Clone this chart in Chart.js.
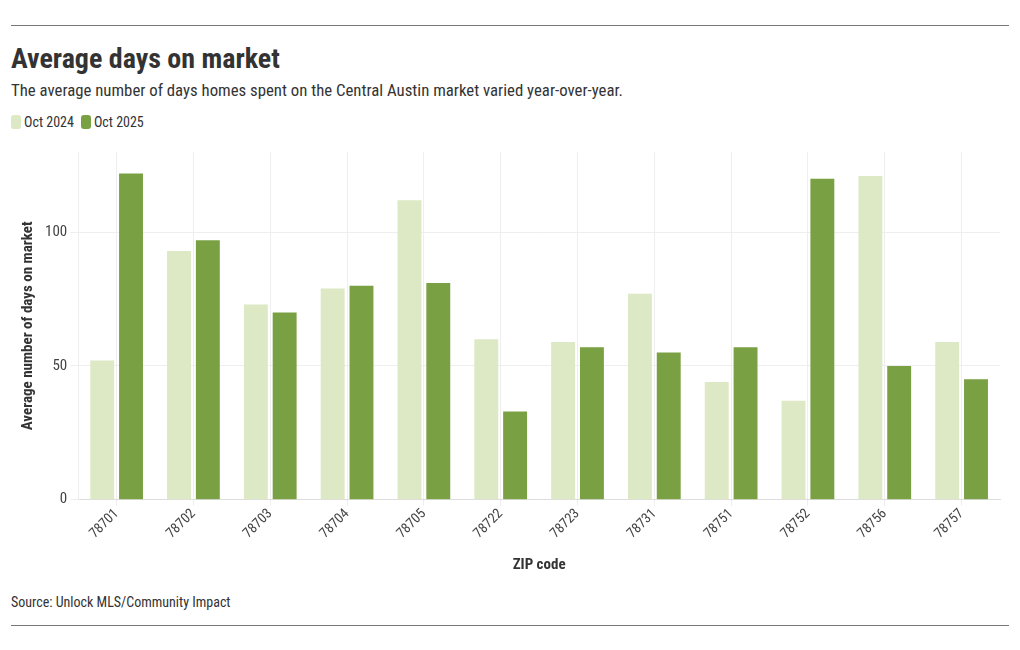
<!DOCTYPE html>
<html lang="en">
<head>
    <meta charset="UTF-8">
    <title>Average days on market</title>
    <script src="https://cdn.jsdelivr.net/npm/chart.js"></script>
    <style>
        body {
            margin: 0;
            background: white;
            font-family: "Roboto Condensed", "Liberation Sans Narrow", Roboto, sans-serif;
            color: #333;
        }
        .wrap {
            position: relative;
            width: 1020px;
            height: 650px;
        }
        .rule {
            position: absolute;
            left: 11px;
            width: 998px;
            border-top: 1px solid #777;
        }
        h1 {
            position: absolute;
            left: 11px;
            top: 42px;
            margin: 0;
            font-size: 28px;
            font-weight: bold;
            color: #333;
        }
        .sub {
            position: absolute;
            left: 11px;
            top: 80px;
            font-size: 16.8px;
            color: #333;
        }
        .legend {
            position: absolute;
            left: 11px;
            top: 114px;
            font-size: 14px;
            display: flex;
            align-items: center;
        }
        .sw {
            display: inline-block;
            width: 10px;
            height: 14px;
            border-radius: 3px;
            margin-right: 3px;
        }
        .item { display: flex; align-items: center; margin-right: 7px; }
        .chart-box {
            position: absolute;
            left: 11px;
            top: 140px;
            width: 998px;
            height: 436px;
        }
        .source {
            position: absolute;
            left: 11px;
            top: 594px;
            font-size: 14px;
            color: #333;
        }
    </style>
</head>
<body>
<div class="wrap">
    <div class="rule" style="top:25px"></div>
    <h1>Average days on market</h1>
    <div class="sub">The average number of days homes spent on the Central Austin market varied year-over-year.</div>
    <div class="legend">
        <span class="item"><span class="sw" style="background:#dde8c4"></span>Oct 2024</span>
        <span class="item"><span class="sw" style="background:#79a042"></span>Oct 2025</span>
    </div>
    <div class="chart-box"><canvas id="daysChart"></canvas></div>
    <div class="source">Source: Unlock MLS/Community Impact</div>
    <div class="rule" style="top:625px"></div>
</div>
<script>
    const zipCodes = ['78701', '78702', '78703', '78704', '78705', '78722', '78723', '78731', '78751', '78752', '78756', '78757'];
    const oct2024 = [52, 93, 73, 79, 112, 60, 59, 77, 44, 37, 121, 59];
    const oct2025 = [122, 97, 70, 80, 81, 33, 57, 55, 57, 120, 50, 45];
    const yTicks = [0, 50, 100];

    const fontFamily = '"Roboto Condensed", "Liberation Sans Narrow", Roboto, sans-serif';

    new Chart(document.getElementById('daysChart'), {
        type: 'bar',
        data: {
            labels: zipCodes,
            datasets: [
                { label: 'Oct 2024', data: oct2024, backgroundColor: '#dde8c4' },
                { label: 'Oct 2025', data: oct2025, backgroundColor: '#79a042' }
            ]
        },
        options: {
            responsive: true,
            maintainAspectRatio: false,
            animation: false,
            categoryPercentage: 0.75,
            barPercentage: 0.83,
            layout: { padding: { left: 8, right: 9, top: 9, bottom: 2 } },
            plugins: { legend: { display: false }, tooltip: { enabled: false } },
            scales: {
                x: {
                    grid: { offset: false, color: '#eeeeee', tickLength: 6 },
                    border: { color: '#dddddd' },
                    ticks: {
                        color: '#444',
                        padding: 0,
                        font: { family: fontFamily, size: 14 },
                        maxRotation: 45,
                        minRotation: 45
                    },
                    title: {
                        display: true,
                        text: 'ZIP code',
                        color: '#333',
                        padding: { top: 14, bottom: 0 },
                        font: { family: fontFamily, size: 15, weight: 'bold' }
                    }
                },
                y: {
                    min: 0,
                    max: 130,
                    afterBuildTicks: axis => { axis.ticks = yTicks.map(v => ({ value: v })); },
                    grid: { color: '#eeeeee', tickLength: 8 },
                    border: { color: '#eeeeee' },
                    ticks: {
                        color: '#444',
                        font: { family: fontFamily, size: 15 }
                    },
                    title: {
                        display: true,
                        text: 'Average number of days on market',
                        color: '#333',
                        padding: { top: 0, bottom: 5 },
                        font: { family: fontFamily, size: 15, weight: 'bold' }
                    }
                }
            }
        }
    });
</script>
</body>
</html>
